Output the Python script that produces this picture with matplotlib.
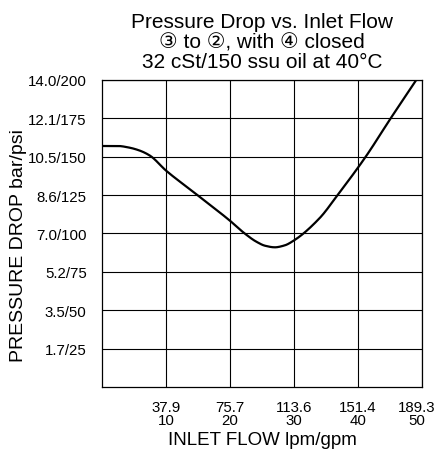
import numpy as np
import matplotlib
matplotlib.use("Agg")
import matplotlib.pyplot as plt
import matplotlib.transforms as mtransforms

plt.rcParams['font.family'] = ['Liberation Sans', 'DejaVu Sans']

# curve (gpm vs psi)
flow_gpm = [0, 2.5, 4.2, 5.9, 7.5, 10, 14.3, 20, 22.3, 24.1, 25.5,
            27, 28.5, 30, 34, 36.8, 41.2, 45.1, 49.1]
drop_psi = [157, 157, 156, 154, 150.7, 141, 127, 108.3, 100, 94.7, 92,
            91, 92.2, 95.5, 110, 125, 150, 175, 200]

x_ticks = [10, 20, 30, 40, 50]
x_labels = ["37.9\n10", "75.7\n20", "113.6\n30", "151.4\n40", "189.3\n50"]
y_ticks = [25, 50, 75, 100, 125, 150, 175, 200]
y_labels = ["1.7/25", "3.5/50", "5.2/75", "7.0/100", "8.6/125",
            "10.5/150", "12.1/175", "14.0/200"]


def pchip(x, y, xs):
    # shape preserving cubic, just to draw the curve smooth
    x = np.asarray(x, float); y = np.asarray(y, float)
    h = np.diff(x); d = np.diff(y) / h
    m = np.zeros_like(x)
    for k in range(1, len(x) - 1):
        if d[k-1] * d[k] > 0:
            w1 = 2*h[k] + h[k-1]; w2 = h[k] + 2*h[k-1]
            m[k] = (w1 + w2) / (w1/d[k-1] + w2/d[k])
    m[0] = d[0]; m[-1] = d[-1]
    i = np.clip(np.searchsorted(x, xs) - 1, 0, len(h) - 1)
    t = (xs - x[i]) / h[i]
    h00 = 2*t**3 - 3*t**2 + 1; h10 = t**3 - 2*t**2 + t
    h01 = -2*t**3 + 3*t**2; h11 = t**3 - t**2
    return h00*y[i] + h10*h[i]*m[i] + h01*y[i+1] + h11*h[i]*m[i+1]


fig = plt.figure(figsize=(4.37, 4.56), dpi=100)
ax = fig.add_axes([0.2334, 0.1491, 0.7323, 0.6733])

xs = np.linspace(flow_gpm[0], flow_gpm[-1], 500)
ax.plot(xs, pchip(flow_gpm, drop_psi, xs), color='black', lw=1.6)

ax.set_xlim(0, 50)
ax.set_ylim(0, 200)
ax.set_xticks(x_ticks)
ax.set_xticklabels(x_labels, fontsize=10.8, linespacing=0.95)
ax.set_yticks(y_ticks)
ax.set_yticklabels(y_labels, fontsize=10.8)
ax.tick_params(length=0, pad=9)
ax.tick_params(axis='y', pad=11)
ax.grid(True, color='black', lw=0.8)
for s in ax.spines.values():
    s.set_linewidth(0.9)

# pull the last x label in a bit so it fits like the original
lab = ax.get_xticklabels()[-1]
lab.set_transform(lab.get_transform() + mtransforms.ScaledTranslation(-5/100, 0, fig.dpi_scale_trans))

ax.set_xlabel("INLET FLOW lpm/gpm", fontsize=13.5, labelpad=3)
ax.set_ylabel("PRESSURE DROP bar/psi", fontsize=14)
ax.yaxis.set_label_coords(-0.235, 0.465)
ax.set_title("Pressure Drop vs. Inlet Flow\n③ to ②, with ④ closed\n32 cSt/150 ssu oil at 40°C",
             fontsize=15, linespacing=1.08, pad=9)

fig.savefig("out.png", dpi=100)
